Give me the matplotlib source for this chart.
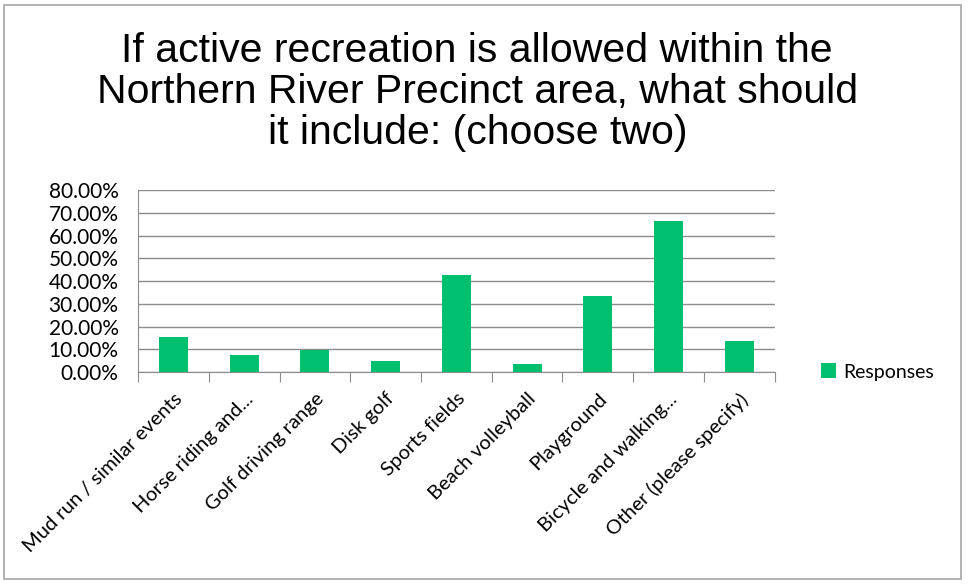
import matplotlib
matplotlib.use('Agg')
import matplotlib.pyplot as plt
from matplotlib.patches import Rectangle
from matplotlib.ticker import FuncFormatter, MultipleLocator
import numpy as np

plt.rcParams['font.family'] = ['Lato', 'DejaVu Sans']

categories = ['Mud run / similar events', 'Horse riding and...', 'Golf driving range',
              'Disk golf', 'Sports fields', 'Beach volleyball', 'Playground',
              'Bicycle and walking...', 'Other (please specify)']
responses = [15.4, 7.7, 9.9, 4.7, 42.6, 3.5, 33.4, 66.5, 13.6]

green = '#00BF6F'
grid = '#8c8c8c'

fig = plt.figure(figsize=(9.72, 5.85), dpi=100)
# outer chart frame
fig.patches.append(Rectangle((0.004, 0.01), 0.985, 0.982, transform=fig.transFigure,
                             fill=False, ec='#a6a6a6', lw=1.2))

fig.text(0.491, 0.843, 'If active recreation is allowed within the\nNorthern River Precinct area, what should\nit include: (choose two)',
         ha='center', va='center', fontsize=29.5, linespacing=1.1, family='Liberation Sans')

ax = fig.add_axes([0.142, 0.364, 0.655, 0.311])
x = np.arange(len(categories))
ax.bar(x, responses, width=0.41, color=green, label='Responses', zorder=3)
ax.set_xlim(-0.5, len(categories) - 0.5)
ax.set_ylim(0, 80)
ax.yaxis.set_major_locator(MultipleLocator(10))
ax.yaxis.set_major_formatter(FuncFormatter(lambda v, p: '%.2f%%' % v))
ax.grid(axis='y', color=grid, lw=1, zorder=0)
for s in ['top', 'right']:
    ax.spines[s].set_visible(False)
ax.spines['left'].set_color(grid)
ax.spines['bottom'].set_color(grid)
ax.tick_params(axis='y', length=0, labelsize=15, pad=14)

# category boundary ticks on the x axis
ax.set_xticks(np.arange(len(categories) + 1) - 0.5, minor=False)
ax.set_xticklabels([])
ax.tick_params(axis='x', which='major', direction='out', length=7, color=grid)
ax.set_xticks(x, minor=True)
ax.set_xticklabels(categories, minor=True, rotation=45, ha='right', rotation_mode='anchor', fontsize=14.5)
ax.tick_params(axis='x', which='minor', length=0, pad=13)

ax.legend(loc='center left', bbox_to_anchor=(1.045, 0.0), frameon=False, fontsize=14,
          handlelength=0.8, handleheight=0.8, handletextpad=0.35)

fig.savefig('out.png', dpi=100)
